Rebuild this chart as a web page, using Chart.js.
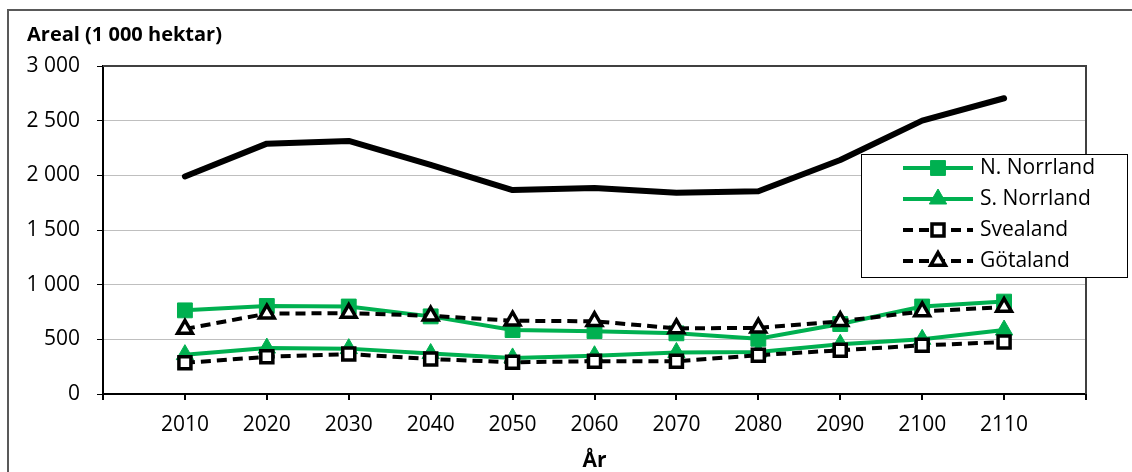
<!DOCTYPE html>
<html>
<head>
<meta charset="utf-8">
<title>Areal (1 000 hektar)</title>
<script src="https://cdn.jsdelivr.net/npm/chart.js@4.4.1/dist/chart.umd.min.js"></script>
<style>
  body { margin: 0; background: #fff; }
  #wrap { position: relative; width: 1132px; height: 472px; overflow: hidden; }
  /* the outer chart frame is cut off at the right and bottom in the original */
  #frame { position: absolute; left: 7px; top: 9px; width: 1200px; height: 500px;
           border-left: 2px solid #595959; border-top: 2px solid #595959; }
  #chart { position: absolute; left: 0; top: 0; }
</style>
</head>
<body>
<div id="wrap">
  <div id="frame"></div>
  <canvas id="chart" width="1132" height="472"></canvas>
</div>
<script>
/* values, 1 000 hektar */
const years = ["2010", "2020", "2030", "2040", "2050", "2060", "2070", "2080", "2090", "2100", "2110"];
const total     = [1990, 2290, 2315, 2095, 1865, 1885, 1840, 1855, 2140, 2500, 2705];
const nNorrland = [765, 805, 800, 710, 585, 575, 555, 505, 640, 800, 845];
const sNorrland = [360, 420, 415, 370, 330, 350, 380, 385, 455, 500, 585];
const svealand  = [285, 340, 365, 320, 290, 300, 300, 355, 400, 445, 475];
const gotaland  = [595, 735, 740, 715, 670, 665, 600, 605, 665, 755, 795];
const yTicks = [0, 500, 1000, 1500, 2000, 2500, 3000];

const GREEN = "#00B050";
const DASH = [10, 6];

// empty category at each end, like the original axis
const labels = ["", ...years, ""];
const pad = arr => [null, ...arr, null];
const fmt = v => String(v).replace(/\B(?=(\d{3})+(?!\d))/g, " ");

Chart.defaults.font.family = "'Open Sans', sans-serif";
Chart.defaults.font.size = 21;
Chart.defaults.color = "#000";

/* frame around the plot area */
const plotBorder = {
  id: "plotBorder",
  beforeDatasetsDraw(chart) {
    const { ctx, chartArea: a } = chart;
    ctx.save();
    ctx.strokeStyle = "#404040";
    ctx.lineWidth = 2;
    ctx.beginPath();
    ctx.moveTo(a.left, a.top);
    ctx.lineTo(a.right, a.top);
    ctx.lineTo(a.right, a.bottom);
    ctx.stroke();
    ctx.restore();
  }
};

/* boxed legend with line + marker samples, sitting over the right edge */
const boxLegend = {
  id: "boxLegend",
  afterDraw(chart) {
    const ctx = chart.ctx;
    const x = 861, y = 154, w = 266, h = 123;
    ctx.save();
    ctx.fillStyle = "#fff";
    ctx.fillRect(x, y, w, h);
    ctx.strokeStyle = "#000";
    ctx.lineWidth = 1;
    ctx.strokeRect(x + 0.5, y + 0.5, w, h);

    const items = chart.data.datasets.filter(ds => ds.pointStyle !== false);
    items.forEach((ds, i) => {
      const ry = 168 + i * 31;
      ctx.setLineDash(ds.borderDash || []);
      ctx.strokeStyle = ds.borderColor;
      ctx.lineWidth = ds.borderWidth;
      ctx.beginPath();
      ctx.moveTo(903, ry);
      ctx.lineTo(973, ry);
      ctx.stroke();
      ctx.setLineDash([]);
      ctx.fillStyle = ds.pointBackgroundColor;
      ctx.strokeStyle = ds.pointBorderColor;
      ctx.lineWidth = ds.pointBorderWidth;
      Chart.helpers.drawPoint(ctx, {
        pointStyle: ds.pointStyle, radius: ds.pointRadius,
        borderWidth: ds.pointBorderWidth, rotation: 0
      }, 938, ry);
      ctx.fillStyle = "#000";
      ctx.font = "21px 'Open Sans', sans-serif";
      ctx.textBaseline = "middle";
      ctx.textAlign = "left";
      ctx.fillText(ds.label, 980, ry);
    });
    ctx.restore();
  }
};

new Chart(document.getElementById("chart"), {
  type: "line",
  data: {
    labels,
    datasets: [
      {
        label: "N. Norrland", data: pad(nNorrland), order: 4,
        borderColor: GREEN, borderWidth: 4,
        pointStyle: "rect", pointRadius: 10.5,
        pointBackgroundColor: GREEN, pointBorderColor: GREEN, pointBorderWidth: 1
      },
      {
        label: "S. Norrland", data: pad(sNorrland), order: 3,
        borderColor: GREEN, borderWidth: 4,
        pointStyle: "triangle", pointRadius: 10,
        pointBackgroundColor: GREEN, pointBorderColor: GREEN, pointBorderWidth: 1
      },
      {
        label: "Svealand", data: pad(svealand), order: 2,
        borderColor: "#000", borderWidth: 4, borderDash: DASH,
        pointStyle: "rect", pointRadius: 8.5,
        pointBackgroundColor: "#fff", pointBorderColor: "#000", pointBorderWidth: 3.5
      },
      {
        label: "Götaland", data: pad(gotaland), order: 1,
        borderColor: "#000", borderWidth: 4, borderDash: DASH,
        pointStyle: "triangle", pointRadius: 8.5,
        pointBackgroundColor: "#fff", pointBorderColor: "#000", pointBorderWidth: 3.5
      },
      {
        label: "Totalt", data: pad(total), order: 5,
        borderColor: "#000", borderWidth: 6,
        borderCapStyle: "round", borderJoinStyle: "round",
        pointStyle: false, pointRadius: 0
      }
    ]
  },
  options: {
    responsive: false,
    animation: false,
    layout: { padding: { left: 27, right: 46, top: 0, bottom: 0 } },
    plugins: {
      legend: { display: false },
      tooltip: { enabled: false },
      title: {
        display: true, align: "start", color: "#000",
        text: "Areal (1 000 hektar)",
        font: { size: 20, weight: "bold" },
        padding: { top: 23, bottom: 19 }
      }
    },
    scales: {
      x: {
        offset: false,
        ticks: { padding: 12, autoSkip: false, maxRotation: 0 },
        grid: { drawOnChartArea: false, tickLength: 6, tickColor: "#000", lineWidth: 2 },
        border: { color: "#000", width: 2 },
        title: { display: true, text: "År", color: "#000",
                 font: { size: 21, weight: "bold", lineHeight: 1 }, padding: 0 },
        afterFit: s => { s.height = 78; }
      },
      y: {
        min: yTicks[0], max: yTicks[yTicks.length - 1],
        afterBuildTicks: s => { s.ticks = yTicks.map(v => ({ value: v })); },
        ticks: { padding: 17, callback: v => fmt(v) },
        grid: {
          color: c => (c.tick && c.tick.value === 0) ? "rgba(0,0,0,0)" : "#BFBFBF",
          tickColor: "#000", tickLength: 6, lineWidth: 1
        },
        border: { color: "#000", width: 2 },
        afterFit: s => { s.width = 76; }
      }
    }
  },
  plugins: [plotBorder, boxLegend]
});
</script>
</body>
</html>
